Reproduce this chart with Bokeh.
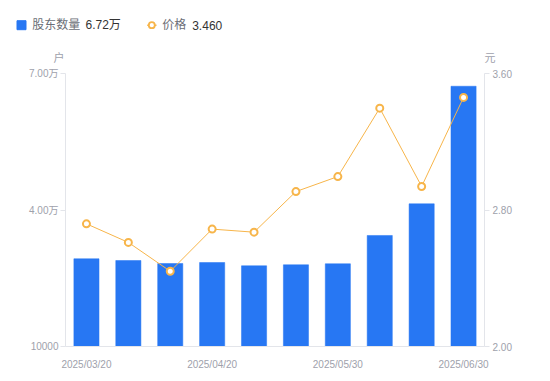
from bokeh.plotting import figure
from bokeh.models import Range1d, LinearAxis, FixedTicker, NumeralTickFormatter
from bokeh.layouts import column
from bokeh.core.properties import value
from bokeh.embed import file_html
from bokeh.resources import INLINE

dates = ["2025/03/20", "2025/03/31", "2025/04/10", "2025/04/20", "2025/04/30",
         "2025/05/20", "2025/05/30", "2025/06/10", "2025/06/20", "2025/06/30"]
holders = [29280, 28900, 28240, 28460, 27740, 27960, 28180, 34400, 41360, 67200]
prices = [2.719, 2.610, 2.441, 2.688, 2.670, 2.908, 2.996, 3.397, 2.938, 3.460]
left_ticks = [10000, 40000, 70000]
left_tick_labels = ["10000", "4.00万", "7.00万"]
right_ticks = [2.0, 2.8, 3.6]
x_tick_idx = [0, 3, 6, 9]

FONT = "Liberation Sans, Noto Sans CJK SC"
BAR = "#2777f3"
ORANGE = "#f7b54a"
AXIS = "#e3e5ea"
TICKTXT = "#9ea1ab"

W = 534
HH = 66                      # header height (legend + axis names)
FL, FR, FT, FB = 65, 484, 73, 346  # frame edges on the page
MH = FB + 27 - HH

# ---- header: page coordinates, y downward ----
h = figure(width=W, height=HH, x_range=Range1d(0, W), y_range=Range1d(HH, 0),
           output_backend="svg", toolbar_location=None,
           x_axis_type=None, y_axis_type=None, min_border=0)
h.frame_align = False
h.outline_line_color = None
h.grid.visible = False

LY = 24.7
h.scatter(x=[21], y=[LY], marker="square", size=9, fill_color=BAR, line_color=BAR)
h.text(x=[31.7], y=[LY], text=["股东数量"], text_font=value(FONT), text_font_size="12px",
       text_color="#6b6e76", text_baseline="middle", text_align="left")
h.text(x=[85], y=[LY], text=[f"{holders[-1]/10000:.2f}万"], text_font=value(FONT),
       text_font_size="12px", text_color="#333333", text_baseline="middle", text_align="left")
h.line(x=[146.7, 156], y=[LY, LY], line_color=ORANGE, line_width=1.5)
h.scatter(x=[151.3], y=[LY], marker="circle", size=6, fill_color="white",
          line_color=ORANGE, line_width=1.8)
h.text(x=[161.7], y=[LY], text=["价格"], text_font=value(FONT), text_font_size="12px",
       text_color="#6b6e76", text_baseline="middle", text_align="left")
h.text(x=[191.7], y=[LY], text=[f"{prices[-1]:.3f}"], text_font=value(FONT),
       text_font_size="12px", text_color="#333333", text_baseline="middle", text_align="left")
h.text(x=[58.5], y=[57], text=["户"], text_font=value(FONT), text_font_size="11px",
       text_color=TICKTXT, text_baseline="middle", text_align="center")
h.text(x=[489.5], y=[57], text=["元"], text_font=value(FONT), text_font_size="11px",
       text_color=TICKTXT, text_baseline="middle", text_align="center")

# ---- main chart ----
xs = list(range(len(dates)))
p = figure(width=W, height=MH, x_range=Range1d(-0.5, len(dates) - 0.5),
           y_range=Range1d(left_ticks[0], left_ticks[-1]),
           output_backend="svg", toolbar_location=None,
           min_border_left=FL, min_border_right=W - FR, min_border_top=FT - HH,
           min_border_bottom=MH - (FB - HH))
p.frame_align = False
p.outline_line_color = None
p.grid.visible = False
p.extra_y_ranges = {"price": Range1d(right_ticks[0], right_ticks[-1])}

p.vbar(x=xs, top=holders, bottom=left_ticks[0], width=0.6, fill_color=BAR,
       line_color=BAR, line_width=0.5)
p.line(x=xs, y=prices, y_range_name="price", line_color=ORANGE, line_width=1)
p.scatter(x=xs, y=prices, y_range_name="price", marker="circle", size=7,
          fill_color="white", line_color=ORANGE, line_width=2)

# x axis
xa = p.xaxis[0]
xa.ticker = FixedTicker(ticks=x_tick_idx)
xa.major_label_overrides = {i: dates[i] for i in x_tick_idx}
xa.major_tick_line_color = None
xa.minor_tick_line_color = None
xa.axis_line_color = AXIS
xa.major_label_text_font = FONT
xa.major_label_text_font_size = "10px"
xa.major_label_text_color = TICKTXT
xa.major_label_standoff = 6

# left axis
ya = p.yaxis[0]
ya.ticker = FixedTicker(ticks=left_ticks)
ya.major_label_overrides = dict(zip(left_ticks, left_tick_labels))
ya.major_tick_in = 0
ya.major_tick_out = 5
ya.minor_tick_line_color = None
ya.major_tick_line_color = AXIS
ya.axis_line_color = AXIS
ya.major_label_text_font = FONT
ya.major_label_text_font_size = "10px"
ya.major_label_text_color = TICKTXT
ya.major_label_standoff = 2

# right axis
ra = LinearAxis(y_range_name="price", ticker=FixedTicker(ticks=right_ticks),
                formatter=NumeralTickFormatter(format="0.00"))
ra.major_tick_in = 0
ra.major_tick_out = 5
ra.minor_tick_line_color = None
ra.major_tick_line_color = AXIS
ra.axis_line_color = AXIS
ra.major_label_text_font = FONT
ra.major_label_text_font_size = "10px"
ra.major_label_text_color = TICKTXT
ra.major_label_standoff = 3
p.add_layout(ra, "right")

layout = column(h, p, spacing=0)
open("out.html", "w").write(file_html(layout, INLINE))
